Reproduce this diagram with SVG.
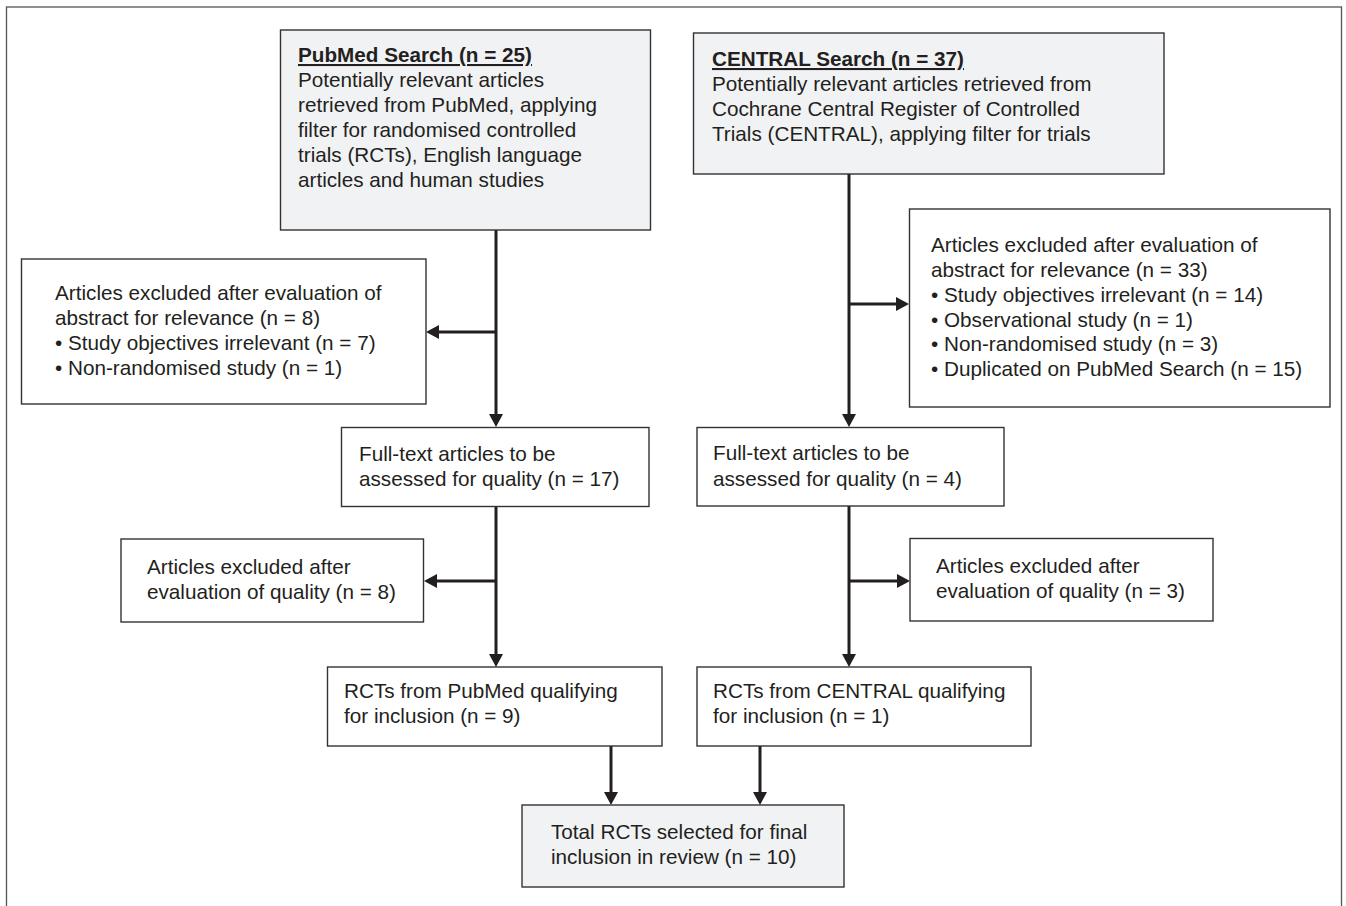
<svg xmlns="http://www.w3.org/2000/svg" width="1346" height="906" viewBox="0 0 1346 906">
<style>
  .box { fill: #ffffff; stroke: #333333; stroke-width: 1.4; }
  .grey { fill: #f1f2f4; }
  .t { font-family: "Liberation Sans", Arial, sans-serif; font-size: 20.7px; fill: #231f20; }
  .h { font-weight: bold; text-decoration: underline; }
  .c { stroke: #231f20; stroke-width: 3; fill: none; }
</style>
<defs>
  <marker id="ah" markerUnits="userSpaceOnUse" markerWidth="14" markerHeight="14" refX="5" refY="7" orient="auto">
    <path d="M0,0 L13,7 L0,14 z" fill="#231f20"/>
  </marker>
</defs>
<rect x="6.5" y="7" width="1335" height="910" fill="#ffffff" stroke="#555555" stroke-width="1.3"/>

<g id="connectors">
  <line class="c" x1="496" y1="230" x2="496" y2="419" marker-end="url(#ah)"/>
  <line class="c" x1="496" y1="332" x2="434" y2="332" marker-end="url(#ah)"/>
  <line class="c" x1="849" y1="174" x2="849" y2="419" marker-end="url(#ah)"/>
  <line class="c" x1="849" y1="304" x2="901" y2="304" marker-end="url(#ah)"/>
  <line class="c" x1="496" y1="507" x2="496" y2="659" marker-end="url(#ah)"/>
  <line class="c" x1="496" y1="581" x2="432" y2="581" marker-end="url(#ah)"/>
  <line class="c" x1="849" y1="506" x2="849" y2="659" marker-end="url(#ah)"/>
  <line class="c" x1="849" y1="581" x2="902" y2="581" marker-end="url(#ah)"/>
  <line class="c" x1="611" y1="746" x2="611" y2="797" marker-end="url(#ah)"/>
  <line class="c" x1="760" y1="746" x2="760" y2="797" marker-end="url(#ah)"/>
</g>

<g id="pubmed">
  <rect class="box grey" x="280.5" y="30" width="370" height="200"/>
  <text class="t h" x="298" y="62">PubMed Search (n = 25)</text>
  <text class="t" x="298" y="87">Potentially relevant articles</text>
  <text class="t" x="298" y="112">retrieved from PubMed, applying</text>
  <text class="t" x="298" y="137">filter for randomised controlled</text>
  <text class="t" x="298" y="162">trials (RCTs), English language</text>
  <text class="t" x="298" y="187">articles and human studies</text>
</g>

<g id="central">
  <rect class="box grey" x="693.5" y="33" width="470.5" height="141"/>
  <text class="t h" x="712" y="66">CENTRAL Search (n = 37)</text>
  <text class="t" x="712" y="91">Potentially relevant articles retrieved from</text>
  <text class="t" x="712" y="116">Cochrane Central Register of Controlled</text>
  <text class="t" x="712" y="141">Trials (CENTRAL), applying filter for trials</text>
</g>

<g id="excl-pubmed-abstract">
  <rect class="box" x="21.5" y="259" width="404.5" height="145"/>
  <text class="t" x="55" y="300">Articles excluded after evaluation of</text>
  <text class="t" x="55" y="325">abstract for relevance (n = 8)</text>
  <text class="t" x="55" y="350">• Study objectives irrelevant (n = 7)</text>
  <text class="t" x="55" y="375">• Non-randomised study (n = 1)</text>
</g>

<g id="excl-central-abstract">
  <rect class="box" x="909.5" y="209" width="420.5" height="198"/>
  <text class="t" x="931" y="252">Articles excluded after evaluation of</text>
  <text class="t" x="931" y="277">abstract for relevance (n = 33)</text>
  <text class="t" x="931" y="302">• Study objectives irrelevant (n = 14)</text>
  <text class="t" x="931" y="327">• Observational study (n = 1)</text>
  <text class="t" x="931" y="351">• Non-randomised study (n = 3)</text>
  <text class="t" x="931" y="376">• Duplicated on PubMed Search (n = 15)</text>
</g>

<g id="fulltext-pubmed">
  <rect class="box" x="341.5" y="427.5" width="307.5" height="79"/>
  <text class="t" x="359" y="461">Full-text articles to be</text>
  <text class="t" x="359" y="486">assessed for quality (n = 17)</text>
</g>

<g id="fulltext-central">
  <rect class="box" x="697" y="427.5" width="307" height="78.5"/>
  <text class="t" x="713" y="460">Full-text articles to be</text>
  <text class="t" x="713" y="486">assessed for quality (n = 4)</text>
</g>

<g id="excl-pubmed-quality">
  <rect class="box" x="121" y="539" width="302.5" height="83"/>
  <text class="t" x="147" y="574">Articles excluded after</text>
  <text class="t" x="147" y="599">evaluation of quality (n = 8)</text>
</g>

<g id="excl-central-quality">
  <rect class="box" x="910" y="538.5" width="303" height="82.5"/>
  <text class="t" x="936" y="573">Articles excluded after</text>
  <text class="t" x="936" y="598">evaluation of quality (n = 3)</text>
</g>

<g id="rct-pubmed">
  <rect class="box" x="327.5" y="667" width="334.5" height="79"/>
  <text class="t" x="344" y="698">RCTs from PubMed qualifying</text>
  <text class="t" x="344" y="723">for inclusion (n = 9)</text>
</g>

<g id="rct-central">
  <rect class="box" x="697" y="667" width="334" height="79"/>
  <text class="t" x="713" y="698">RCTs from CENTRAL qualifying</text>
  <text class="t" x="713" y="723">for inclusion (n = 1)</text>
</g>

<g id="total">
  <rect class="box grey" x="522" y="805" width="322" height="82"/>
  <text class="t" x="551" y="839">Total RCTs selected for final</text>
  <text class="t" x="551" y="864">inclusion in review (n = 10)</text>
</g>
</svg>
